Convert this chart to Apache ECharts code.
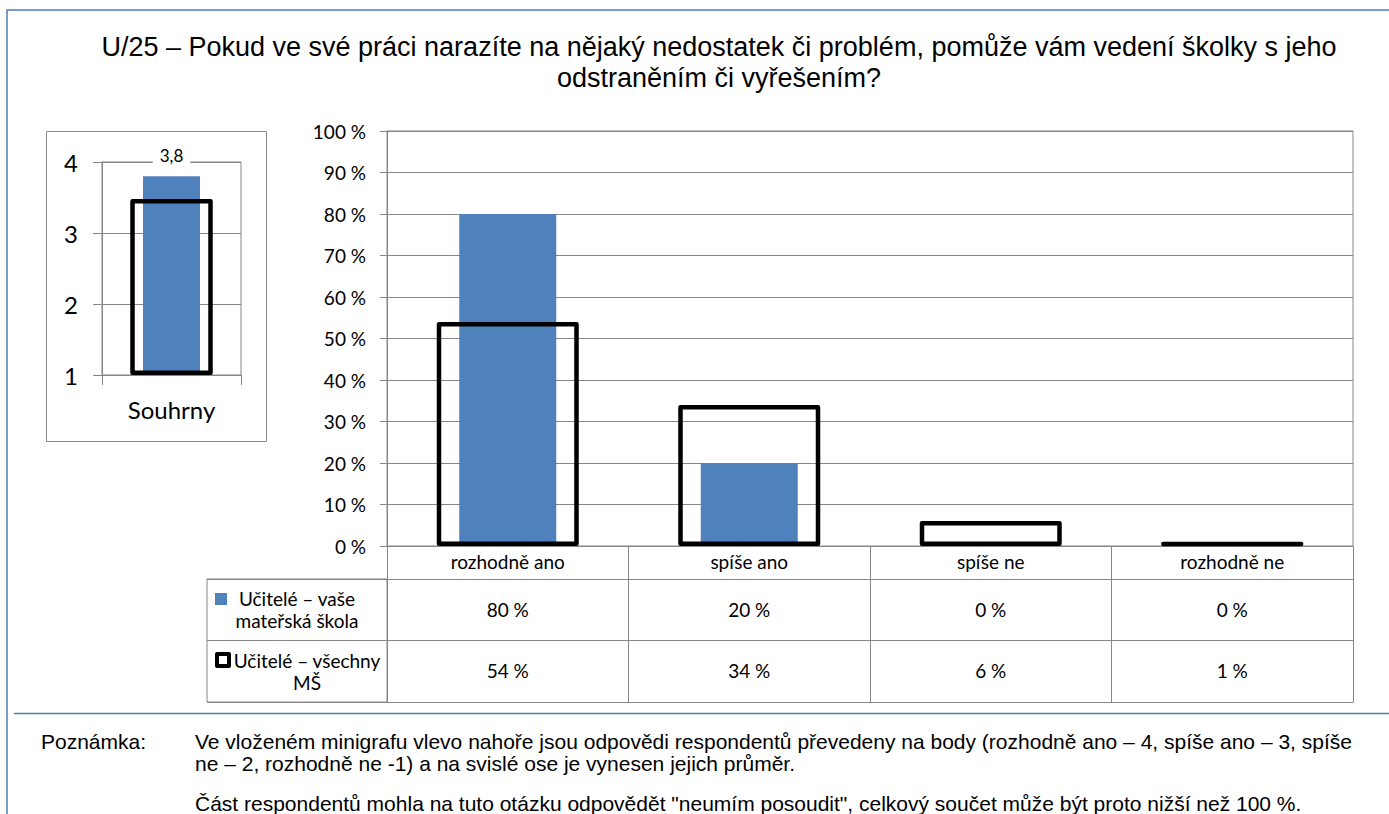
<!DOCTYPE html>
<html lang="cs">
<head>
<meta charset="utf-8">
<title>U/25 – vedení školky</title>
<script src="https://cdn.jsdelivr.net/npm/echarts@6/dist/echarts.min.js"></script>
<style>
  html, body { margin: 0; padding: 0; background: #fff; }
  #chart { width: 1389px; height: 814px; }
</style>
</head>
<body>
<div id="chart"></div>
<script>
// Answer categories and shares (%)
const categories = ['rozhodně ano', 'spíše ano', 'spíše ne', 'rozhodně ne'];
const schoolValues = [80, 20, 0, 0];
const allValues = [54, 34, 6, 1];

// Series names and their two-line table captions
const seriesNames = ['Učitelé – vaše mateřská škola', 'Učitelé – všechny MŠ'];
const seriesCaptions = [['Učitelé – vaše', 'mateřská škola'], ['Učitelé – všechny', 'MŠ']];

// Mini chart: average score (4 = rozhodně ano ... 1 = rozhodně ne)
const summaryCategory = ['Souhrny'];
const summarySchool = [3.8];
const summaryAll = [3.48];

const titleLines = [
  'U/25 – Pokud ve své práci narazíte na nějaký nedostatek či problém, pomůže vám vedení školky s jeho',
  'odstraněním či vyřešením?'
];
const noteLabel = 'Poznámka:';
const noteLines = [
  'Ve vloženém minigrafu vlevo nahoře jsou odpovědi respondentů převedeny na body (rozhodně ano – 4, spíše ano – 3, spíše',
  'ne – 2, rozhodně ne -1) a na svislé ose je vynesen jejich průměr.',
  'Část respondentů mohla na tuto otázku odpovědět "neumím posoudit", celkový součet může být proto nižší než 100 %.'
];

const BLUE = '#4F81BD';
const GREY = '#868686';
const FRAME = '#4A7EBB';
const CAL = 'Lato, "Open Sans", sans-serif';
const ARIAL = '"Liberation Sans", Arial, sans-serif';
const pct = v => v + ' %';

const chart = echarts.init(document.getElementById('chart'), null, { renderer: 'svg' });

const hiddenAxis = { show: false };

chart.setOption({
  animation: false,
  backgroundColor: '#fff',
  title: {
    text: titleLines.join('\n'),
    left: 719,
    textAlign: 'center',
    top: 31,
    padding: 0,
    textStyle: { fontFamily: ARIAL, fontSize: 27, fontWeight: 'normal', color: '#000', lineHeight: 31 }
  },
  legend: [
    {
      left: 215, top: 593, padding: 0, itemWidth: 12, itemHeight: 12, selectedMode: false,
      formatter: () => '',
      data: [{ name: seriesNames[0], icon: 'rect', itemStyle: { color: BLUE, borderWidth: 0 } }]
    },
    {
      left: 215, top: 652, padding: 0, itemWidth: 12, itemHeight: 12, selectedMode: false,
      formatter: () => '',
      data: [{ name: seriesNames[1], icon: 'rect', itemStyle: { color: '#fff', borderColor: '#000', borderWidth: 4 } }]
    }
  ],
  grid: [
    // main chart
    { left: 387, top: 131, width: 966, height: 415, show: true, borderColor: GREY, borderWidth: 1, outerBoundsMode: 'none' },
    // mini chart
    { left: 102, top: 162, width: 139, height: 213, show: true, borderColor: GREY, borderWidth: 1, outerBoundsMode: 'none' },
    // series captions column of the data table
    { left: 207, top: 579, width: 180, height: 123, show: true, borderColor: GREY, borderWidth: 1, outerBoundsMode: 'none' }
  ],
  xAxis: [
    {
      gridIndex: 0, type: 'category', data: categories, position: 'bottom', offset: 0,
      axisLine: { show: true, lineStyle: { color: GREY, width: 1 } },
      axisTick: { show: true, length: 33, interval: 0, lineStyle: { color: GREY } },
      axisLabel: { interval: 0, margin: 6, color: '#000', fontFamily: CAL, fontSize: 19 },
      splitLine: { show: false }
    },
    {
      gridIndex: 0, type: 'category', data: categories, position: 'bottom', offset: 33,
      axisLine: { show: true, lineStyle: { color: GREY, width: 1 } },
      axisTick: { show: true, length: 61, interval: 0, lineStyle: { color: GREY } },
      axisLabel: { interval: 0, margin: 21, color: '#000', fontFamily: CAL, fontSize: 19,
        formatter: (v, i) => pct(schoolValues[i]) },
      splitLine: { show: false }
    },
    {
      gridIndex: 0, type: 'category', data: categories, position: 'bottom', offset: 94,
      axisLine: { show: true, lineStyle: { color: GREY, width: 1 } },
      axisTick: { show: true, length: 62, interval: 0, lineStyle: { color: GREY } },
      axisLabel: { interval: 0, margin: 21, color: '#000', fontFamily: CAL, fontSize: 19,
        formatter: (v, i) => pct(allValues[i]) },
      splitLine: { show: false }
    },
    {
      gridIndex: 0, type: 'category', data: categories, position: 'bottom', offset: 156,
      axisLine: { show: true, lineStyle: { color: GREY, width: 1 } },
      axisTick: { show: false }, axisLabel: { show: false }, splitLine: { show: false }
    },
    {
      gridIndex: 1, type: 'category', data: summaryCategory, position: 'bottom',
      axisLine: { show: true, lineStyle: { color: GREY, width: 1 } },
      axisTick: { show: true, length: 10, interval: 0, lineStyle: { color: GREY } },
      axisLabel: { margin: 22, color: '#000', fontFamily: CAL, fontSize: 24 },
      splitLine: { show: false }
    },
    Object.assign({ gridIndex: 1, type: 'category', data: summaryCategory }, hiddenAxis),
    Object.assign({ gridIndex: 2, type: 'value', min: 0, max: 1 }, hiddenAxis)
  ],
  yAxis: [
    {
      gridIndex: 0, type: 'value', min: 0, max: 100, interval: 10,
      axisLine: { show: true, lineStyle: { color: GREY, width: 1 } },
      axisTick: { show: true, length: 7, lineStyle: { color: GREY } },
      axisLabel: { margin: 21, color: '#000', fontFamily: CAL, fontSize: 19, formatter: pct },
      splitLine: { show: true, lineStyle: { color: GREY, width: 1 } }
    },
    {
      gridIndex: 1, type: 'value', min: 1, max: 4, interval: 1, startValue: 1,
      axisLine: { show: true, lineStyle: { color: GREY, width: 1 } },
      axisTick: { show: true, length: 9, lineStyle: { color: GREY } },
      axisLabel: { margin: 24, color: '#000', fontFamily: CAL, fontSize: 24 },
      splitLine: { show: true, lineStyle: { color: GREY, width: 1 } }
    },
    {
      gridIndex: 2, type: 'category', data: seriesNames, inverse: true,
      axisLine: { show: false }, axisTick: { show: false },
      splitLine: { show: true, interval: 0, lineStyle: { color: GREY, width: 1 } },
      axisLabel: {
        inside: true, margin: 90, align: 'center', interval: 0,
        formatter: (v, i) => {
          const key = i === 0 ? 'a' : 'b';
          return seriesCaptions[i].map(t => '{' + key + '|' + t + '}').join('\n');
        },
        rich: {
          a: { fontFamily: CAL, fontSize: 19, lineHeight: 22, color: '#000', align: 'center' },
          b: { fontFamily: CAL, fontSize: 19, lineHeight: 22, color: '#000', align: 'center', padding: [0, 0, 0, 20] }
        }
      }
    }
  ],
  series: [
    {
      name: seriesNames[0], type: 'bar', xAxisIndex: 0, yAxisIndex: 0,
      data: schoolValues, barWidth: 97,
      itemStyle: { color: BLUE },
      emphasis: { disabled: true }
    },
    {
      name: seriesNames[1], type: 'bar', xAxisIndex: 1, yAxisIndex: 0,
      data: allValues, barWidth: 142,
      itemStyle: { color: 'rgba(0,0,0,0)', borderColor: '#000', borderWidth: 4.5, borderJoin: 'round' },
      emphasis: { disabled: true }
    },
    {
      name: seriesNames[0], type: 'bar', xAxisIndex: 4, yAxisIndex: 1,
      data: summarySchool, barWidth: 57,
      itemStyle: { color: BLUE },
      label: {
        show: true, position: 'top', distance: 11, color: '#000', fontFamily: CAL, fontSize: 17,
        backgroundColor: '#fff', padding: [1, 7],
        formatter: p => String(p.value).replace('.', ',')
      },
      emphasis: { disabled: true }
    },
    {
      name: seriesNames[1], type: 'bar', xAxisIndex: 5, yAxisIndex: 1,
      data: summaryAll, barWidth: 82.5,
      itemStyle: { color: 'rgba(0,0,0,0)', borderColor: '#000', borderWidth: 4.5, borderJoin: 'round' },
      emphasis: { disabled: true }
    }
  ],
  graphic: [
    { type: 'polyline', silent: true, shape: { points: [[1389, 10], [7, 10], [7, 814]] },
      style: { stroke: FRAME, lineWidth: 1.5, fill: null } },
    { type: 'line', silent: true, shape: { x1: 14, y1: 713.5, x2: 1389, y2: 713.5 },
      style: { stroke: FRAME, lineWidth: 1.5 } },
    { type: 'rect', silent: true, shape: { x: 46.5, y: 131.5, width: 220, height: 310 },
      style: { stroke: '#898989', lineWidth: 1, fill: null }, z: -1 },
    { type: 'text', silent: true, x: 41, y: 741,
      style: { text: noteLabel, fontFamily: ARIAL, fontSize: 21, fill: '#000', verticalAlign: 'middle' } },
    { type: 'text', silent: true, x: 195, y: 741,
      style: { text: noteLines[0], fontFamily: ARIAL, fontSize: 21, fill: '#000', verticalAlign: 'middle' } },
    { type: 'text', silent: true, x: 195, y: 763,
      style: { text: noteLines[1], fontFamily: ARIAL, fontSize: 21, fill: '#000', verticalAlign: 'middle' } },
    { type: 'text', silent: true, x: 195, y: 803,
      style: { text: noteLines[2], fontFamily: ARIAL, fontSize: 21, fill: '#000', verticalAlign: 'middle' } }
  ]
});
</script>
</body>
</html>
